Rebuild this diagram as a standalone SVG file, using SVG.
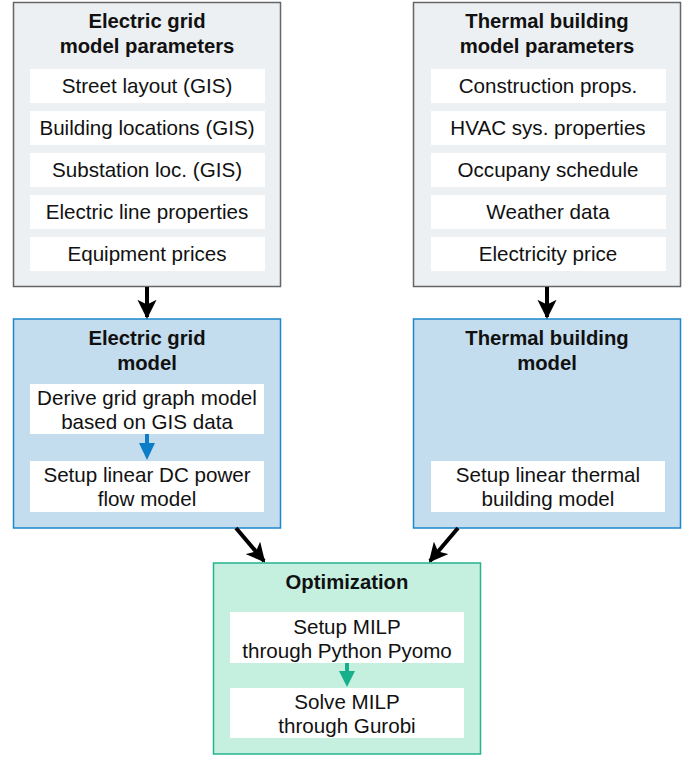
<svg xmlns="http://www.w3.org/2000/svg" width="691" height="757" viewBox="0 0 691 757">
<style>
text{font-family:"Liberation Sans",Arial,sans-serif;font-size:20.6px;fill:#111;text-anchor:middle}
.t{font-weight:bold;font-size:20.3px}
.gray{fill:#edf0f3;stroke:#666;stroke-width:1.5}
.blue{fill:#c3ddef;stroke:#1b87cc;stroke-width:1.5}
.green{fill:#c5f0e0;stroke:#25b28d;stroke-width:1.5}
.w{fill:#fff}
.k{stroke:#000;stroke-width:4;fill:none}
</style>
<defs>
<marker id="ah" viewBox="0 0 10 10" refX="9" refY="5" markerWidth="4.8" markerHeight="4.8" orient="auto" markerUnits="strokeWidth">
<path d="M0,0 L10,5 L0,10 L2.5,5 Z" fill="#000"/>
</marker>
</defs>
<g id="egparams">
<rect class="gray" x="13.5" y="2.5" width="267" height="284"/>
<text class="t" x="147" y="28">Electric grid</text>
<text class="t" x="147" y="53">model parameters</text>
<rect class="w" x="30" y="69" width="235" height="34"/>
<text x="147" y="93">Street layout (GIS)</text>
<rect class="w" x="30" y="111" width="235" height="34"/>
<text x="147" y="135">Building locations (GIS)</text>
<rect class="w" x="30" y="153" width="235" height="34"/>
<text x="147" y="177">Substation loc. (GIS)</text>
<rect class="w" x="30" y="195" width="235" height="34"/>
<text x="147" y="219">Electric line properties</text>
<rect class="w" x="30" y="237" width="235" height="34"/>
<text x="147" y="261">Equipment prices</text>
</g>
<g id="tbparams">
<rect class="gray" x="413.5" y="2.5" width="267" height="284"/>
<text class="t" x="547" y="28">Thermal building</text>
<text class="t" x="547" y="53">model parameters</text>
<rect class="w" x="431" y="69" width="235" height="34"/>
<text x="548" y="93">Construction props.</text>
<rect class="w" x="431" y="111" width="235" height="34"/>
<text x="548" y="135">HVAC sys. properties</text>
<rect class="w" x="431" y="153" width="235" height="34"/>
<text x="548" y="177">Occupany schedule</text>
<rect class="w" x="431" y="195" width="235" height="34"/>
<text x="548" y="219">Weather data</text>
<rect class="w" x="431" y="237" width="235" height="34"/>
<text x="548" y="261">Electricity price</text>
</g>
<g id="egmodel">
<rect class="blue" x="13.5" y="319" width="267" height="209"/>
<text class="t" x="147" y="345">Electric grid</text>
<text class="t" x="147" y="370">model</text>
<rect class="w" x="30" y="384" width="234" height="50"/>
<text x="147" y="405">Derive grid graph model</text>
<text x="147" y="429">based on GIS data</text>
<rect class="w" x="30" y="461" width="234" height="51"/>
<text x="147" y="482">Setup linear DC power</text>
<text x="147" y="506">flow model</text>
<path d="M145,434 H149 V443 H155 L147,460 L139,443 H145 Z" fill="#0e7dc8"/>
</g>
<g id="tbmodel">
<rect class="blue" x="413.5" y="319" width="267" height="209"/>
<text class="t" x="547" y="345">Thermal building</text>
<text class="t" x="547" y="370">model</text>
<rect class="w" x="431" y="461" width="234" height="51"/>
<text x="548" y="482">Setup linear thermal</text>
<text x="548" y="506">building model</text>
</g>
<g id="opt">
<rect class="green" x="213.5" y="563" width="267" height="191"/>
<text class="t" x="347" y="589">Optimization</text>
<rect class="w" x="230" y="612" width="234" height="51"/>
<text x="347" y="634">Setup MILP</text>
<text x="347" y="658">through Python Pyomo</text>
<rect class="w" x="230" y="688" width="234" height="50"/>
<text x="347" y="709">Solve MILP</text>
<text x="347" y="733">through Gurobi</text>
<path d="M345,663 H349 V671 H355 L347,687 L339,671 H345 Z" fill="#17b08a"/>
</g>
<g id="connectors">
<line class="k" x1="147" y1="287" x2="147" y2="317" marker-end="url(#ah)"/>
<line class="k" x1="547" y1="287" x2="547" y2="317" marker-end="url(#ah)"/>
<line class="k" x1="236" y1="528" x2="264" y2="561" marker-end="url(#ah)"/>
<line class="k" x1="458" y1="528" x2="430" y2="561" marker-end="url(#ah)"/>
</g>
</svg>
